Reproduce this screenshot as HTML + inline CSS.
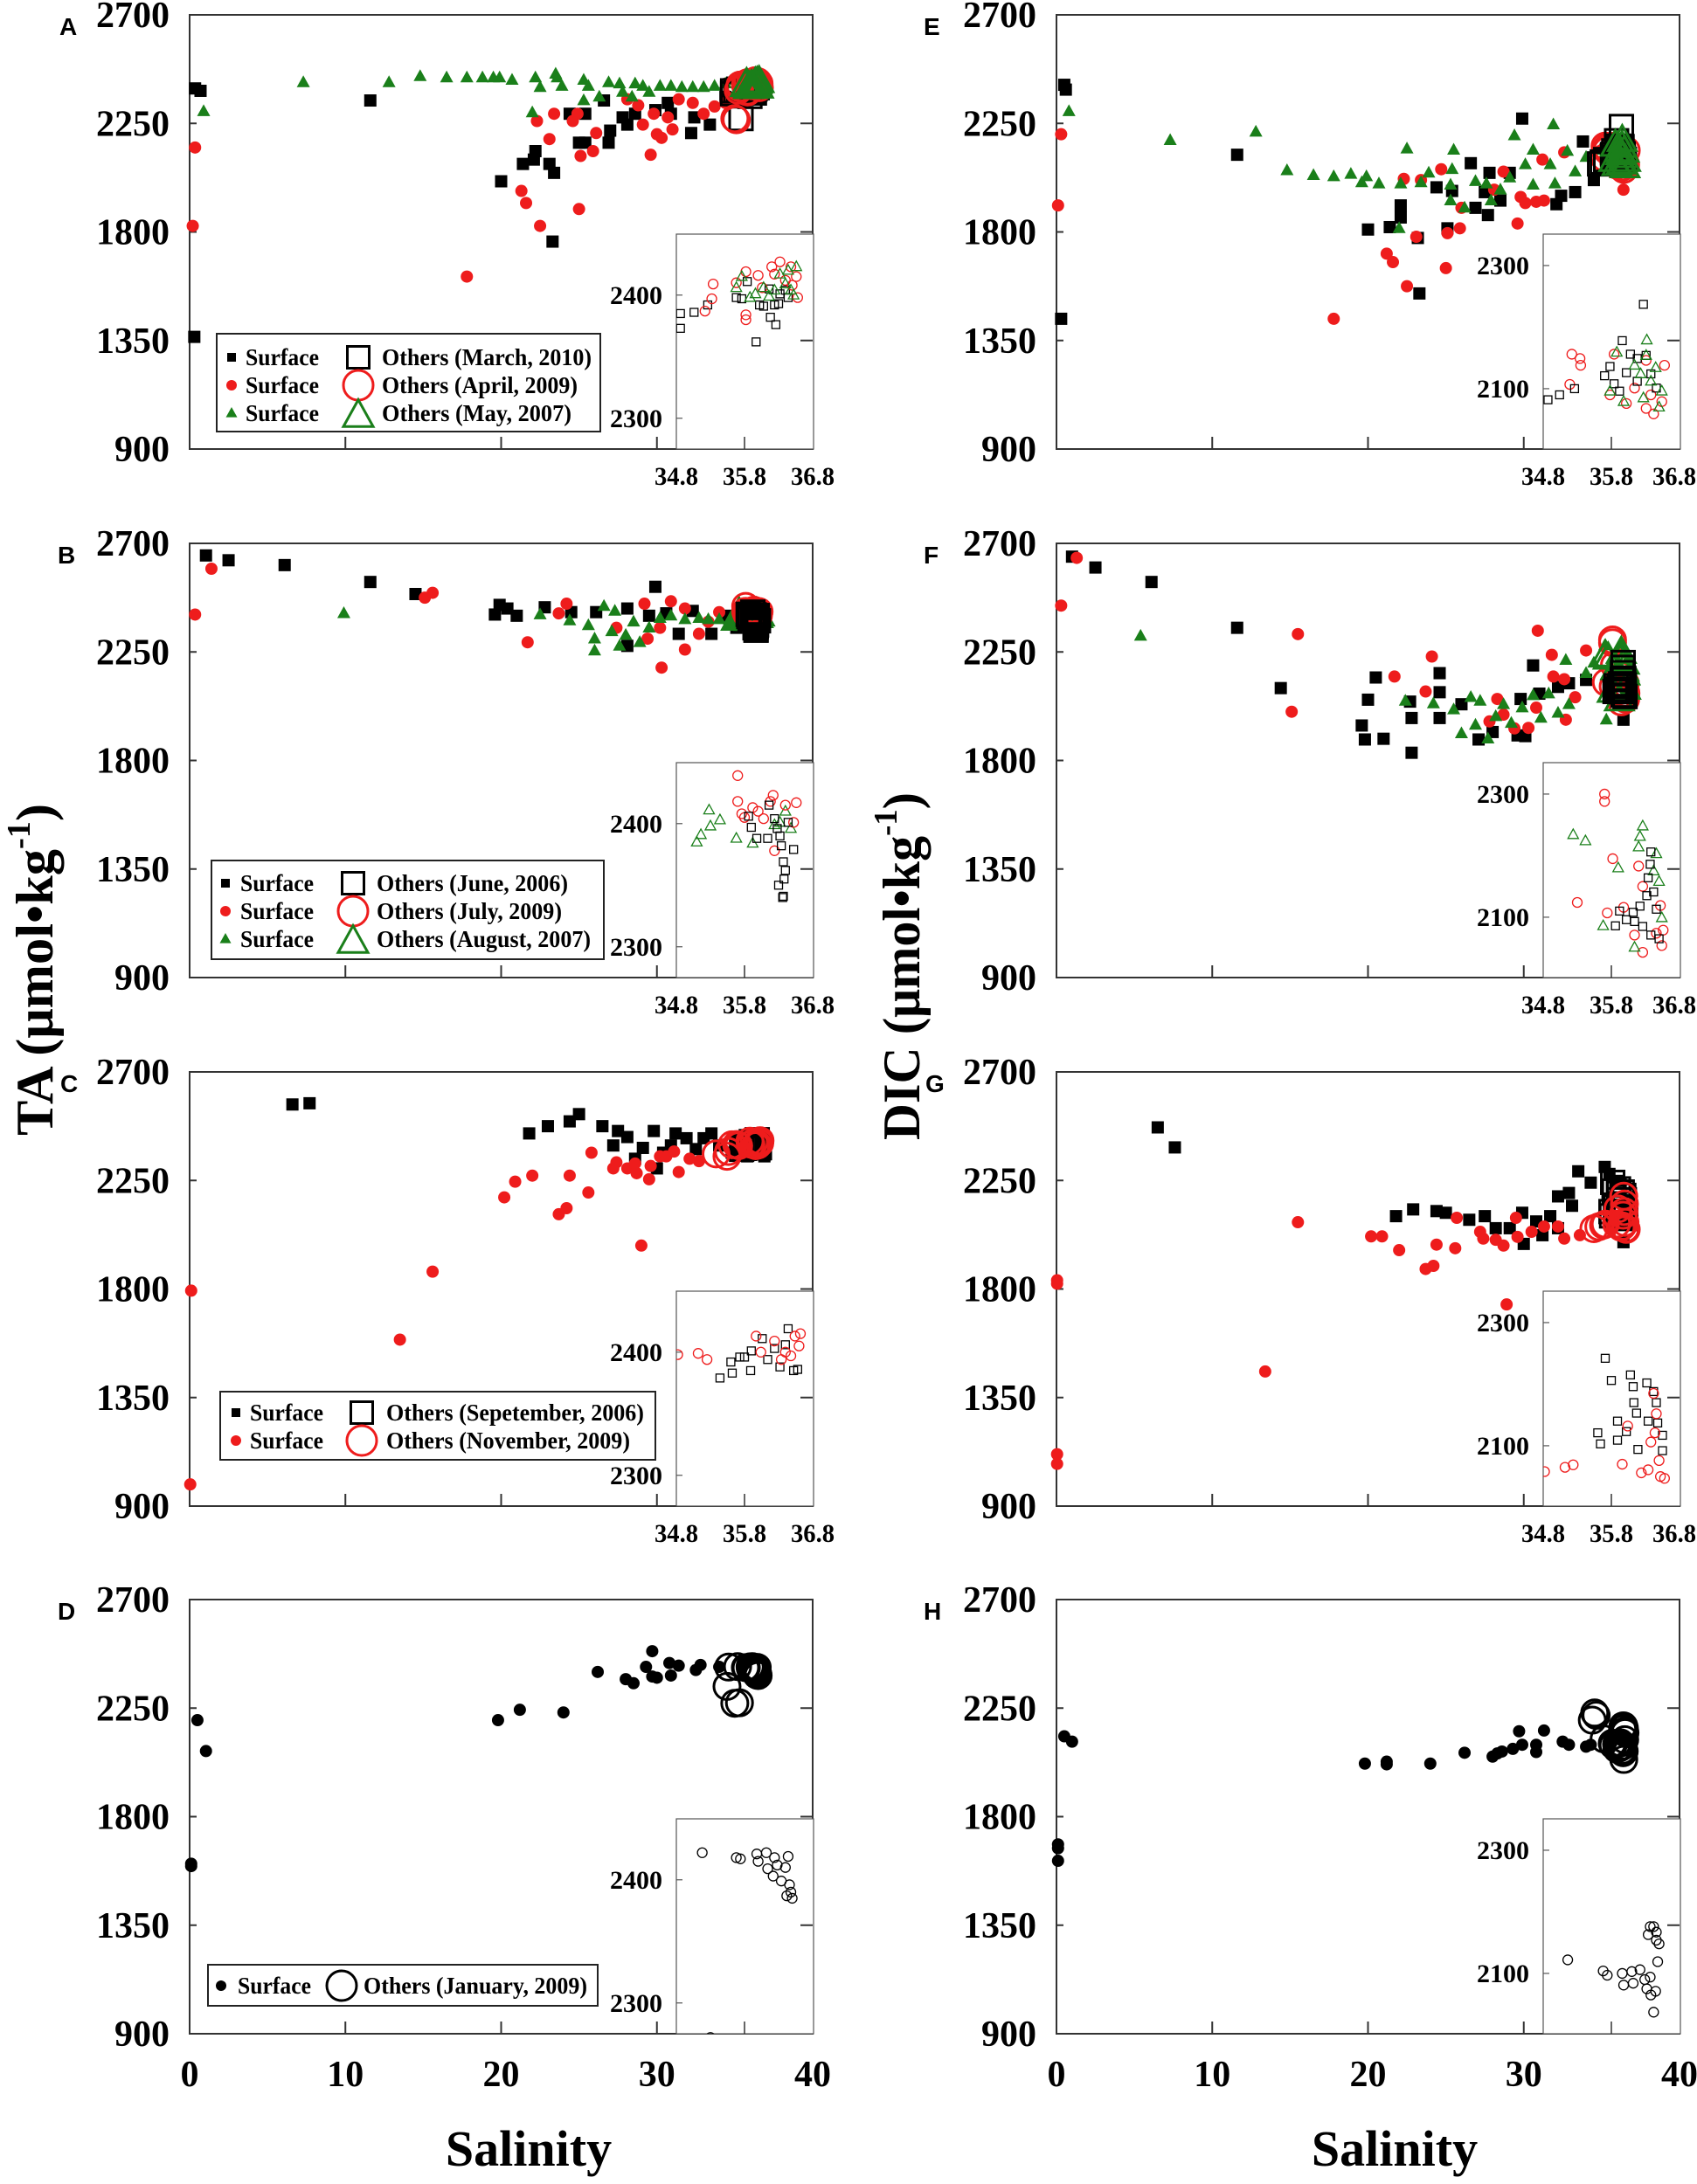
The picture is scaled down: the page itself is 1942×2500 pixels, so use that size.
<!DOCTYPE html>
<html><head><meta charset="utf-8"><title>TA and DIC versus salinity</title>
<style>
html,body{margin:0;padding:0;background:#fff;}
svg{display:block;}
text{font-family:"Liberation Serif",serif;font-weight:bold;fill:#000;}
.lt{font-family:"Liberation Sans",sans-serif;font-weight:bold;}
</style></head>
<body>
<svg id="fig" xmlns="http://www.w3.org/2000/svg" width="1942" height="2500" viewBox="0 0 1942 2500">
<rect width="1942" height="2500" fill="#fff"/>
<text transform="translate(60,1300) rotate(-90)" font-size="60" textLength="380" lengthAdjust="spacingAndGlyphs">TA (μmol•kg<tspan font-size="38" dy="-26">-1</tspan><tspan dy="26">)</tspan></text>
<text transform="translate(1052,1305) rotate(-90)" font-size="60" textLength="398" lengthAdjust="spacingAndGlyphs">DIC (μmol•kg<tspan font-size="38" dy="-26">-1</tspan><tspan dy="26">)</tspan></text>
<text x="605" y="2479" font-size="58" text-anchor="middle">Salinity</text>
<text x="1596" y="2479" font-size="58" text-anchor="middle">Salinity</text>
</svg>
<script>
// ---------- Panel A (TA) ----------
const aSqSal=[0.35,0.7,0.3,11.6,20,21.4,22.2,22.1,23.1,23.4,23.3,25,25.4,24.4,25.4,26.6,26.9,27,27.8,28.6,29.9,30.9,32.2,32.4,33.4,34.4,35.1,35.8,36.3,30.7,28.1];
const aSqVal=[2395,2385,1365,2345,2010,2082,2135,2100,2082,2045,1760,2170,2170,2290,2290,2345,2170,2220,2275,2290,2305,2290,2210,2275,2245,2360,2355,2355,2370,2335,2245];
const aCiSal=[0.35,0.2,17.8,21.3,21.6,22.5,22.3,23.4,23.1,24.6,24.9,25.1,25,25.9,26.1,28.1,28.8,29.1,29.6,29.8,30,30.3,30.7,31,31.4,32.3,33,33.7,34.4,35.5,36.1];
const aCiVal=[2150,1825,1615,1970,1920,1825,2260,2290,2185,2260,2290,2115,1895,2135,2210,2350,2325,2245,2120,2290,2205,2190,2275,2225,2350,2335,2290,2320,2335,2350,2360];
const aTrSal=[0.9,7.3,12.8,14.8,16.5,17.8,18.8,19.5,19.9,20.7,22.2,22.5,23.5,23.6,23.9,22,25.3,25.6,25.3,26.3,26.9,27.6,27.8,28.6,29.1,28.4,29.5,30.2,30.9,31.6,32.3,33,33.7,34.4,34.9,35.5,36.1,36.7];
const aTrVal=[2300,2420,2420,2445,2440,2440,2440,2440,2440,2430,2440,2400,2455,2440,2405,2295,2430,2405,2345,2360,2420,2415,2380,2415,2405,2360,2380,2405,2405,2400,2400,2400,2405,2415,2430,2435,2440,2430];
const aOSqSal=[34.86,34.86,35.06,35.26,35.68,35.76,35.84,36.02,36.08,35.97,36.18,36.26,36.24,36.32,36.4,36.44,36.16,36.3,35.4];
const aOSqVal=[2385,2373,2386,2392,2398,2397,2411,2392,2391,2362,2382,2376,2392,2401,2404,2398,2405,2393,2270];
const aOCiSal=[35.34,35.32,35.22,35.82,35.82,35.82,36,36.2,36.32,36.48,36.56,36.58,36.24,36.4,36.5,36.06,35.68,35.1,35.0];
const aOCiVal=[2409,2397,2387,2384,2380,2419,2416,2423,2427,2423,2415,2398,2417,2412,2408,2406,2410,2265,2270];
const aOTrSal=[35.68,35.76,35.96,36.08,36.16,36.32,36.4,36.48,36.56,36.44,36.24,35.88,36.52];
const aOTrVal=[2406,2415,2401,2406,2399,2417,2409,2404,2423,2420,2404,2398,2400];
// ---------- Panel B (TA) ----------
const bSqSal=[1.05,2.5,6.1,11.6,14.5,19.6,19.9,20.4,21,22.8,24.5,26.1,28.1,29.9,29.5,28.1,31.4,32.3,33.5,30.6,34.4,35.1];
const bSqVal=[2650,2630,2610,2540,2490,2405,2445,2430,2400,2435,2415,2415,2430,2520,2400,2275,2325,2420,2325,2410,2400,2350];
const bCiSal=[0.35,1.4,15.1,15.6,21.7,23.7,24.2,27.4,29.2,29.4,30.3,30.9,31.8,32.7,31.8,30.2,33.3,34];
const bCiVal=[2405,2595,2475,2495,2290,2410,2450,2350,2450,2305,2185,2460,2260,2325,2430,2350,2375,2415];
const bTrSal=[9.9,22.5,24.4,25.6,26,26,26.6,27.1,27.3,27.6,28,28.5,28.9,29.5,30.2,30.9,31.8,32.7,33.3,34,34.9,37.2];
const bTrVal=[2410,2405,2380,2360,2305,2255,2440,2335,2420,2275,2320,2375,2290,2350,2390,2400,2385,2390,2385,2385,2375,2375];
const bOSqSal=[35.86,35.9,35.98,36.14,36.16,36.24,36.28,36.34,36.37,36.38,36.37,36.4,36.52,36.44,36.32,36.3,36.36];
const bOSqVal=[2406,2397,2388,2388,2415,2404,2396,2382,2369,2355,2341,2362,2379,2401,2390,2350,2340];
const bOCiSal=[35.7,35.7,35.76,36,36.18,36.22,36.4,36.56,36.52,36.24,36.08,35.92,35.8];
const bOCiVal=[2439,2418,2408,2410,2418,2423,2415,2417,2401,2378,2404,2413,2405];
const bOTrSal=[35.1,35.16,35.28,35.3,35.44,35.68,35.92,36.24,36.4,36.48,36.32];
const bOTrVal=[2385,2391,2411,2398,2403,2388,2384,2399,2410,2396,2401];
// ---------- Panel C (TA) ----------
const cSqSal=[6.6,7.7,21.8,23,24.4,25,26.5,27.5,27.2,28.1,28.6,29.1,29.8,30,30.9,31.2,31.9,32.5,33,33.5,34,34.8,35.8,36.9,30.4];
const cSqVal=[2565,2570,2445,2475,2495,2525,2475,2455,2395,2430,2340,2385,2455,2300,2395,2445,2425,2380,2425,2445,2395,2365,2350,2350,2365];
const cCiSal=[0.1,0.04,13.5,15.6,20.2,20.9,22,23.7,24.2,24.4,25.6,25.8,27.2,27.4,28.1,28.6,28.7,29,29.5,29.6,30.2,30.6,31.1,31.4,32.1,32.7];
const cCiVal=[1793,990,1590,1872,2180,2245,2270,2110,2135,2270,2200,2365,2300,2325,2300,2320,2280,1980,2255,2310,2350,2350,2370,2285,2340,2330];
const cOSqSal=[35.44,35.6,35.62,35.73,35.8,35.9,35.89,36.06,36.14,36.32,36.44,36.52,36.58,36.4,36.24];
const cOSqVal=[2379,2392,2383,2396,2396,2401,2385,2411,2394,2388,2419,2385,2386,2406,2403];
const cOCiSal=[34.82,35.12,35.25,35.97,36.24,36.04,36.4,36.54,36.62,36.6,36.48,36.34,33.8,34.5,34.6];
const cOCiVal=[2398,2399,2394,2413,2409,2400,2400,2413,2415,2405,2397,2394,2360,2350,2370];
// ---------- Panel D (TA) ----------
const dCiSal=[0.5,1.05,0.1,0.1,19.8,21.2,24,26.2,28,28.5,29.3,29.7,29.7,30,30.8,30.9,31.4,32.5,32.8,34];
const dCiVal=[2200,2072,1605,1595,2200,2243,2232,2400,2370,2353,2421,2486,2381,2376,2437,2385,2426,2408,2429,2421];
const dOCiSal=[35.18,35.68,35.74,35.98,36.12,36,36.24,36.44,36.22,36.34,36.46,36.48,36.42,36.5,36.4,36.28,36.14,35.0,35.3,34.5,34.6];
const dOCiVal=[2422,2418,2417,2421,2422,2415,2418,2419,2403,2399,2396,2390,2387,2385,2410,2412,2409,2270,2272,2340,2420];
// ---------- Panel E (DIC) ----------
const eSqSal=[0.5,0.6,0.3,11.6,20,21.4,22.1,22.1,23.3,23.2,24.4,25.4,25.1,26.6,26.9,27.5,27.8,27.7,28.5,29.1,29.9,32.1,32.4,33.3,33.8,34.5];
const eSqVal=[2410,2390,1440,2120,1810,1820,1860,1910,1545,1775,1985,1970,1815,2085,1900,1965,2045,1870,1930,2045,2270,1915,1950,1965,2175,2015];
const eCiSal=[0.3,0.1,17.8,21.2,21.6,22.5,23.1,22.3,23.4,24.7,25,25.1,25.9,26,28.1,28.7,29.6,29.8,30.1,30.8,31.3,32.6,31.2,36.4];
const eCiVal=[2205,1910,1440,1710,1675,1575,1780,2020,2015,2060,1650,1795,1815,1900,1975,2050,1835,1945,1920,1925,1930,2130,2100,1975];
const eTrSal=[0.8,7.3,12.8,14.8,16.5,17.8,18.9,19.6,19.9,20.7,22,22.1,22.5,23.4,23.9,25.3,25.3,25.4,25.5,26.2,26.9,27.6,27.9,28.5,29.1,29.4,30.1,30.6,30.6,31.7,31.9,32,32.8,33.3,34,34.9,35.6];
const eTrVal=[2300,2180,2215,2055,2035,2030,2040,2005,2030,2000,1815,2000,2145,2005,2045,1930,1995,2060,2140,1900,2010,2000,1930,1975,2025,2200,2080,2140,1995,2080,2245,2000,2135,2050,2110,2140,2150];
const eOSqSal=[34.87,35.04,35.26,35.7,35.78,35.84,35.96,36.02,36.08,36.18,36.27,36.31,36.38,36.46,36.18,35.92];
const eOSqVal=[2082,2090,2100,2121,2136,2108,2178,2126,2156,2149,2237,2154,2124,2101,2112,2096];
const eOCiSal=[35.22,35.34,35.35,35.19,35.78,35.84,36.02,36.14,36.31,36.38,36.42,36.54,36.58,36.31];
const eOCiVal=[2156,2149,2138,2107,2090,2156,2076,2101,2146,2090,2059,2079,2138,2068];
const eOTrSal=[35.78,35.88,35.98,36.14,36.32,36.31,36.38,36.45,36.5,36.54,36.27,36.23];
const eOTrVal=[2096,2159,2079,2138,2179,2154,2112,2134,2070,2096,2085,2124];
// ---------- Panel F (DIC) ----------
const fSqSal=[1,2.5,6.1,11.6,14.4,19.6,19.8,20,20.5,21,22.7,22.8,22.8,24.6,24.6,24.6,26,27.1,28,29.6,30.1,29.8,30.6,31,32.2,32.9,34,36.4];
const fSqVal=[2645,2600,2540,2350,2100,1945,1887,2052,2144,1890,2044,1976,1832,2162,2083,1976,2033,1887,1918,1904,1901,2055,2194,2077,2105,2120,2134,1969];
const fCiSal=[0.3,1.3,15.5,15.1,21.7,23.7,24.1,28.3,29.4,30.3,30.9,31.8,31.9,32.6,32.7,34,27.8,28.7,30.8,33.3];
const fCiVal=[2442,2640,2324,2002,2148,2086,2231,2055,1933,1935,2338,2238,2148,2137,1969,2256,1962,1990,2019,2062];
const fTrSal=[5.4,22.4,24.2,25.5,26,26.6,27.2,26.9,27.7,28.2,28.7,29.2,29.9,30.6,31.1,31.6,32.2,32.7,32.9,34,34.5,35.2,35.3,36.2];
const fTrVal=[2316,2047,2036,2011,1912,2062,2047,1947,1890,1983,2033,1955,2019,2070,1976,2077,1997,2216,2033,2162,2205,2277,1969,2284];
const fOSqSal=[35.86,35.92,36.02,36.12,36.22,36.32,36.34,36.37,36.38,36.42,36.46,36.5,36.38,36.26,36.14];
const fOSqVal=[2086,2110,2096,2108,2118,2135,2164,2186,2206,2141,2113,2065,2071,2085,2093];
const fOCiSal=[35.7,35.7,35.3,35.82,35.74,35.98,36.2,36.14,36.26,36.46,36.54,36.56,36.52,36.26];
const fOCiVal=[2300,2288,2124,2195,2107,2116,2183,2071,2043,2074,2054,2079,2119,2150];
const fOTrSal=[35.24,35.42,35.9,36.26,36.22,36.2,36.46,36.5,36.54,35.68,36.14,36.42];
const fOTrVal=[2234,2224,2180,2248,2231,2214,2203,2158,2099,2086,2051,2175];
// ---------- Panel G (DIC) ----------
const gSqSal=[6.5,7.6,21.8,22.9,24.4,25,26.5,27.5,28.2,29.1,29.9,30,30.8,31.7,32.2,32.9,33.1,33.5,34.3,35.2,35.5,36.1,36.4,32.2,31.2];
const gSqVal=[2470,2387,2102,2130,2123,2116,2087,2102,2052,2052,2116,1987,2080,2102,2184,2198,2145,2288,2241,2306,2277,2248,1994,2052,2023];
const gCiSal=[0.04,0.04,0.04,0.04,13.4,15.5,20.2,20.9,22,23.7,24.2,24.4,25.6,25.7,27.2,27.4,28.2,28.7,28.9,29.5,29.6,30.5,31.3,32.2,32.6,33.6];
const gCiVal=[1836,1822,1115,1075,1458,2077,2018,2018,1961,1883,1896,1984,1969,2095,2037,2009,2004,1980,1736,2095,2016,2037,2059,2059,2009,2023];
const gOSqSal=[35.71,35.8,35.6,35.64,35.89,35.89,36.02,36.08,36.12,36.13,36.17,36.19,36.32,36.34,36.42,36.46,36.48,36.55,36.55];
const gOSqVal=[2242,2206,2121,2103,2109,2140,2123,2215,2196,2170,2153,2094,2202,2140,2188,2170,2137,2117,2092];
const gOCiSal=[34.82,35.12,35.24,35.96,36.04,36.24,36.34,36.38,36.42,36.46,36.5,36.58,36.52,36.44,34.5];
const gOCiVal=[2058,2065,2069,2070,2132,2056,2061,2106,2185,2152,2076,2047,2050,2121,2050];
// ---------- Panel H (DIC) ----------
const hCiSal=[0.5,1,0.1,0.1,0.1,19.8,21.2,21.2,24,26.2,28,28.3,28.6,29.3,29.7,29.9,30.8,30.8,31.3,32.5,32.9,34,34.3];
const hCiVal=[2133,2111,1685,1669,1617,2020,2028,2017,2020,2065,2049,2062,2070,2081,2154,2098,2098,2068,2157,2111,2098,2090,2098];
const hOCiSal=[35.16,35.68,35.74,35.96,35.98,36.1,36.12,36.22,36.29,36.32,36.37,36.42,36.34,36.46,36.46,36.5,36.48,36.37,36.38,36.42,36.45,34.4,34.55,34.65];
const hOCiVal=[2122,2104,2097,2100,2081,2103,2084,2106,2090,2075,2176,2176,2163,2167,2154,2148,2119,2094,2065,2037,2071,2200,2230,2220];
// ---------- tick labels ----------
const mainYTicks=[900,1350,1800,2250,2700];
const mainXTicks=[0,10,20,30,40];
const insetXTicks=[34.8,35.8,36.8];
const taInsetYTicks=[2300,2400];
const dicInsetYTicks=[2100,2300];

const NS='http://www.w3.org/2000/svg';
const svg=document.getElementById('fig');
function mk(tag,attrs,parent){const e=document.createElementNS(NS,tag);for(const k in attrs)e.setAttribute(k,attrs[k]);(parent||svg).appendChild(e);return e;}

const W=713,H=497,IW=156,IH=246,IOFF=251;
const RED='#ee1c1c',GRN='#1a7f1a';

function marker(g,shape,cx,cy,size,color,filled,sw){
  let e;
  if(shape==='sq'){e=mk('rect',{x:cx-size/2,y:cy-size/2,width:size,height:size},g);}
  else if(shape==='ci'){e=mk('circle',{cx:cx,cy:cy,r:size/2},g);}
  else {const h=size*0.9;e=mk('polygon',{points:(cx)+','+(cy-h*0.6)+' '+(cx-size/2)+','+(cy+h*0.4)+' '+(cx+size/2)+','+(cy+h*0.4)},g);}
  if(filled){e.setAttribute('fill',color);}else{e.setAttribute('fill','none');e.setAttribute('stroke',color);e.setAttribute('stroke-width',sw);}
  return e;
}

function panel(p){
  const g=mk('g',{});
  
  
  const x0=p.x0,y0=p.y0;
  const sx=s=>x0+s/40*W;
  const sy=v=>y0+(2700-v)/1800*H;
  const ix0=x0+W-IW,iy0=y0+IOFF;
  const isx=s=>ix0+(s-34.8)/2*IW;
  const isy=v=>iy0+(p.ihi-v)/(p.ihi-p.ilo)*IH;
  const lt=mk('text',{x:p.lx,y:y0+23,'font-size':28,class:'lt'},g);lt.textContent=p.letter;
  
  
  const fr=mk('rect',{x:x0,y:y0,width:W,height:H,fill:'none',stroke:'#333','stroke-width':2},g);
  
  
  mainYTicks.forEach(v=>{
    const y=sy(v);
    mk('line',{x1:x0,y1:y,x2:x0+8,y2:y,stroke:'#333','stroke-width':2},g);
    mk('line',{x1:x0+W,y1:y,x2:x0+W-14,y2:y,stroke:'#333','stroke-width':2},g);
    const t=mk('text',{x:x0-23,y:y+14,'font-size':42,'text-anchor':'end'},g);t.textContent=v;
    
    
  });
  mainXTicks.forEach(s=>{
    if(s>0&&s<40) mk('line',{x1:sx(s),y1:y0+H,x2:sx(s),y2:y0+H-14,stroke:'#333','stroke-width':2},g);
    if(p.xlab){const t=mk('text',{x:sx(s),y:y0+H+60,'font-size':42,'text-anchor':'middle'},g);t.textContent=s;
      
      }
  });
  p.surf.forEach(sr=>{
    const sg=mk('g',{},g);
    
    
    sr.s.forEach((s,i)=>marker(sg,sr.shape,sx(s),sy(sr.v[i]),sr.shape==='tr'?15:14,sr.c,true,0));
  });
  p.oth.forEach(sr=>{
    const sg=mk('g',{},g);
    
    
    const sz=sr.shape==='sq'?26:(sr.shape==='ci'?30:32);
    sr.s.forEach((s,i)=>marker(sg,sr.shape,sx(s),sy(sr.v[i]),sz,sr.c,false,3));
  });
  const ig=mk('g',{},g);
  
  
  mk('rect',{x:ix0,y:iy0,width:IW+1,height:H-IOFF,fill:'#fff',stroke:'#555','stroke-width':1.2},ig);
  const cid='clip'+p.letter;
  const cp=mk('clipPath',{id:cid},ig);mk('rect',{x:ix0,y:iy0,width:IW,height:H-IOFF},cp);
  mk('line',{x1:x0+W,y1:sy(1350),x2:x0+W-14,y2:sy(1350),stroke:'#333','stroke-width':2},ig);
  mk('line',{x1:isx(35.8),y1:y0+H,x2:isx(35.8),y2:y0+H-14,stroke:'#333','stroke-width':1.5},ig);
  p.iyt.forEach(v=>{
    const y=isy(v);
    mk('line',{x1:ix0,y1:y,x2:ix0+7,y2:y,stroke:'#555','stroke-width':1.2},ig);
    const t=mk('text',{x:ix0-16,y:y+10,'font-size':30,'text-anchor':'end'},ig);t.textContent=v;
    
    
  });
  if(!p.xlab) insetXTicks.forEach(s=>{
    let xx=isx(s),anc='middle';
    if(isx(s)+26>1940){xx=1941;anc='end';}
    const t=mk('text',{x:xx,y:y0+H+41,'font-size':30,'text-anchor':anc,textLength:50,lengthAdjust:'spacingAndGlyphs'},ig);t.textContent=s.toFixed(1);
    
    
  });
  const ic=mk('g',{'clip-path':'url(#'+cid+')'},ig);
  p.oth.forEach(sr=>{
    const sg=mk('g',{},ic);
    
    
    const sz=sr.shape==='sq'?9:(sr.shape==='ci'?11:12);
    sr.s.forEach((s,i)=>marker(sg,sr.shape,isx(s),isy(sr.v[i]),sz,sr.c,false,1.3));
  });
  if(p.leg){
    const L=p.leg;
    const lg=mk('g',{},g);
    
    
    mk('rect',{x:L.x1,y:y0+L.y1,width:L.x2-L.x1,height:L.y2-L.y1,fill:'#fff',stroke:'#222','stroke-width':2},lg);
    L.rows.forEach((r,i)=>{
      const cy=y0+L.ry[i];
      const eg=mk('g',{},lg);
      
      
      marker(eg,r.shape,L.mx,cy,r.shape==='ci'?12:(r.shape==='tr'?13:10),r.c,true,0);
      const t1=mk('text',{x:L.tx,y:cy+9,'font-size':27,textLength:84,lengthAdjust:'spacingAndGlyphs'},eg);t1.textContent='Surface';
      marker(eg,r.shape,L.bx,cy+(r.shape==='tr'?3:0),r.shape==='sq'?25:34,r.c,false,3);
      const t2=mk('text',{x:L.ox,y:cy+9,'font-size':27,textLength:r.w,lengthAdjust:'spacingAndGlyphs'},eg);t2.textContent=r.label;
    });
  }
}

const tops=[17,622,1227,1831];
const LX=217,RX=1209;
panel({letter:'A',x0:LX,y0:tops[0],lx:68,ihi:2449.5,ilo:2275,iyt:taInsetYTicks,xlab:false,
  surf:[{s:aSqSal,v:aSqVal,shape:'sq',c:'#000'},{s:aCiSal,v:aCiVal,shape:'ci',c:RED},{s:aTrSal,v:aTrVal,shape:'tr',c:GRN}],
  oth:[{s:aOSqSal,v:aOSqVal,shape:'sq',c:'#000'},{s:aOCiSal,v:aOCiVal,shape:'ci',c:RED},{s:aOTrSal,v:aOTrVal,shape:'tr',c:GRN}],
  leg:{x1:248,x2:687,y1:365,y2:477,ry:[392,424,456],mx:265,tx:281,bx:410,ox:437,rows:[
    {shape:'sq',c:'#000',label:'Others (March, 2010)',w:240},{shape:'ci',c:RED,label:'Others (April, 2009)',w:224},{shape:'tr',c:GRN,label:'Others (May, 2007)',w:217}]}});
panel({letter:'B',x0:LX,y0:tops[1],lx:66,ihi:2449.5,ilo:2275,iyt:taInsetYTicks,xlab:false,
  surf:[{s:bSqSal,v:bSqVal,shape:'sq',c:'#000'},{s:bCiSal,v:bCiVal,shape:'ci',c:RED},{s:bTrSal,v:bTrVal,shape:'tr',c:GRN}],
  oth:[{s:bOTrSal,v:bOTrVal,shape:'tr',c:GRN},{s:bOCiSal,v:bOCiVal,shape:'ci',c:RED},{s:bOSqSal,v:bOSqVal,shape:'sq',c:'#000'}],
  leg:{x1:242,x2:691,y1:363,y2:476,ry:[389,421,453],mx:258,tx:275,bx:404,ox:431,rows:[
    {shape:'sq',c:'#000',label:'Others (June, 2006)',w:219},{shape:'ci',c:RED,label:'Others (July, 2009)',w:212},{shape:'tr',c:GRN,label:'Others (August, 2007)',w:245}]}});
panel({letter:'C',x0:LX,y0:tops[2],lx:69,ihi:2449.5,ilo:2275,iyt:taInsetYTicks,xlab:false,
  surf:[{s:cSqSal,v:cSqVal,shape:'sq',c:'#000'},{s:cCiSal,v:cCiVal,shape:'ci',c:RED}],
  oth:[{s:cOSqSal,v:cOSqVal,shape:'sq',c:'#000'},{s:cOCiSal,v:cOCiVal,shape:'ci',c:RED}],
  leg:{x1:252,x2:750,y1:366,y2:444,ry:[390,422],mx:270,tx:286,bx:414,ox:442,rows:[
    {shape:'sq',c:'#000',label:'Others (Sepetember, 2006)',w:295},{shape:'ci',c:RED,label:'Others (November, 2009)',w:279}]}});
panel({letter:'D',x0:LX,y0:tops[3],lx:66,ihi:2449.5,ilo:2275,iyt:taInsetYTicks,xlab:true,
  surf:[{s:dCiSal,v:dCiVal,shape:'ci',c:'#000'}],
  oth:[{s:dOCiSal,v:dOCiVal,shape:'ci',c:'#000'}],
  leg:{x1:238,x2:684,y1:418,y2:465,ry:[442],mx:253,tx:272,bx:391,ox:416,rows:[
    {shape:'ci',c:'#000',label:'Others (January, 2009)',w:256}]}});
panel({letter:'E',x0:RX,y0:tops[0],lx:1057,ihi:2351,ilo:2002,iyt:dicInsetYTicks,xlab:false,
  surf:[{s:eSqSal,v:eSqVal,shape:'sq',c:'#000'},{s:eCiSal,v:eCiVal,shape:'ci',c:RED},{s:eTrSal,v:eTrVal,shape:'tr',c:GRN}],
  oth:[{s:eOCiSal,v:eOCiVal,shape:'ci',c:RED},{s:eOSqSal,v:eOSqVal,shape:'sq',c:'#000'},{s:eOTrSal,v:eOTrVal,shape:'tr',c:GRN}]});
panel({letter:'F',x0:RX,y0:tops[1],lx:1057,ihi:2351,ilo:2002,iyt:dicInsetYTicks,xlab:false,
  surf:[{s:fSqSal,v:fSqVal,shape:'sq',c:'#000'},{s:fCiSal,v:fCiVal,shape:'ci',c:RED},{s:fTrSal,v:fTrVal,shape:'tr',c:GRN}],
  oth:[{s:fOCiSal,v:fOCiVal,shape:'ci',c:RED},{s:fOTrSal,v:fOTrVal,shape:'tr',c:GRN},{s:fOSqSal,v:fOSqVal,shape:'sq',c:'#000'}]});
panel({letter:'G',x0:RX,y0:tops[2],lx:1059,ihi:2351,ilo:2002,iyt:dicInsetYTicks,xlab:false,
  surf:[{s:gSqSal,v:gSqVal,shape:'sq',c:'#000'},{s:gCiSal,v:gCiVal,shape:'ci',c:RED}],
  oth:[{s:gOSqSal,v:gOSqVal,shape:'sq',c:'#000'},{s:gOCiSal,v:gOCiVal,shape:'ci',c:RED}]});
panel({letter:'H',x0:RX,y0:tops[3],lx:1057,ihi:2351,ilo:2002,iyt:dicInsetYTicks,xlab:true,
  surf:[{s:hCiSal,v:hCiVal,shape:'ci',c:'#000'}],
  oth:[{s:hOCiSal,v:hOCiVal,shape:'ci',c:'#000'}]});
</script>
</body></html>
